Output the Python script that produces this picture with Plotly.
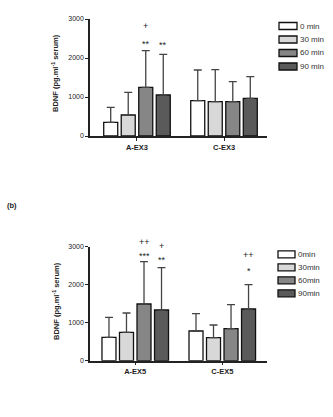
import plotly.graph_objects as go

W, H = 333, 417

# ---- data ----
groups_a = ["A-EX3", "C-EX3"]
groups_b = ["A-EX5", "C-EX5"]
times_a = ["0 min", "30 min", "60 min", "90 min"]
times_b = ["0min", "30min", "60min", "90min"]
colors = ["#ffffff", "#d8d8d8", "#868686", "#5a5a5a"]

# mean values per time point, [A, C]
means_a = [[351, 905], [538, 880], [1248, 880], [1051, 967]]
tops_a = [[735, 1692], [1120, 1700], [2187, 1392], [2095, 1520]]
means_b = [[616, 782], [747, 605], [1492, 842], [1334, 1361]]
tops_b = [[1142, 1237], [1255, 939], [2605, 1474], [2447, 2000]]

# significance marks: (group index, time index, text, value, is_star)
marks_a = [(0, 2, "+", 2820, False), (0, 2, "**", 2436, True), (0, 3, "**", 2400, True)]
marks_b = [(0, 2, "++", 3132, False), (0, 2, "***", 2834, True),
           (0, 3, "+", 3018, False), (0, 3, "**", 2729, True),
           (1, 3, "++", 2782, False), (1, 3, "*", 2447, True)]

yticks = [0, 1000, 2000, 3000]
YMAX = 3000

fig = go.Figure()

def px_x(p):
    return p / W

def px_y(p):
    return 1 - p / H

FONT = "Liberation Sans, Arial"

panels = [
    dict(groups=groups_a, means=means_a, tops=tops_a, marks=marks_a, xa="x", ya="y",
         dom_x=(90, 267), dom_y=(136, 19), rng=[-0.54, 1.494]),
    dict(groups=groups_b, means=means_b, tops=tops_b, marks=marks_b, xa="x2", ya="y2",
         dom_x=(90, 267), dom_y=(360.7, 246.7), rng=[-0.52, 1.514]),
]

for p in panels:
    for i in range(4):
        fig.add_trace(go.Bar(
            x=p["groups"], y=p["means"][i],
            marker=dict(color=colors[i], line=dict(color="#111111", width=1.3)),
            error_y=dict(type="data", symmetric=False,
                         array=[t - m for t, m in zip(p["tops"][i], p["means"][i])],
                         arrayminus=[0, 0], color="#444444", thickness=1.3, width=4),
            xaxis=p["xa"], yaxis=p["ya"], showlegend=False,
        ))

axis_common = dict(showgrid=False, zeroline=False, showline=True, linecolor="#222222",
                   linewidth=1.5, ticks="outside", tickcolor="#222222", ticklen=3,
                   tickwidth=1.2, tickprefix="<b>", ticksuffix="</b>")

fig.update_layout(
    width=W, height=H, margin=dict(l=0, r=0, t=0, b=0, autoexpand=False),
    paper_bgcolor="white", plot_bgcolor="white",
    barmode="group", bargap=0.195, bargroupgap=0.2,
    xaxis=dict(domain=[px_x(90), px_x(267)], anchor="y", range=panels[0]["rng"],
               tickfont=dict(family=FONT, size=7.5, color="#222222"), **axis_common),
    yaxis=dict(domain=[px_y(136), px_y(19)], anchor="x", range=[0, YMAX],
               tickvals=yticks, tickfont=dict(family=FONT, size=7, color="#222222"),
               **axis_common),
    xaxis2=dict(domain=[px_x(90), px_x(267)], anchor="y2", range=panels[1]["rng"],
                tickfont=dict(family=FONT, size=7.5, color="#222222"), **axis_common),
    yaxis2=dict(domain=[px_y(360.7), px_y(246.7)], anchor="x2", range=[0, YMAX],
                tickvals=yticks, tickfont=dict(family=FONT, size=7, color="#222222"),
                **axis_common),
)

# significance annotations, placed in paper space (some lie above the axis range)
slot = (1 - 0.195) / 4
def offset(t):
    return -(1 - 0.195) / 2 + slot * (t + 0.5)

for p in panels:
    x0p, x1p = p["dom_x"]
    ybot, ytop = p["dom_y"]
    r0, r1 = p["rng"]
    for g, t, txt, val, star in p["marks"]:
        xc = g + offset(t)
        xpx = x0p + (xc - r0) / (r1 - r0) * (x1p - x0p)
        ypx = ybot - val / YMAX * (ybot - ytop)
        fig.add_annotation(x=px_x(xpx), y=px_y(ypx), xref="paper", yref="paper", text=txt,
                           showarrow=False, xanchor="center", yanchor="middle",
                           yshift=-3 if star else 0,
                           font=dict(family=FONT, size=9, color="#222222"))

# y titles
ytitle = "<b>BDNF (pg.ml<sup>-1</sup> serum)</b>"
for xc, yc in [(55, 73), (56, 301)]:
    fig.add_annotation(x=px_x(xc), y=px_y(yc), xref="paper", yref="paper", text=ytitle,
                       textangle=-90, showarrow=False, xanchor="center", yanchor="middle",
                       font=dict(family=FONT, size=7.5, color="#222222"))

# panel label
fig.add_annotation(x=px_x(5), y=px_y(205), xref="paper", yref="paper", text="<b>(b)</b>",
                   xanchor="left", yanchor="middle", showarrow=False,
                   font=dict(family=FONT, size=7.5, color="#222222"))

# legends (drawn boxes + labels)
legends = [(times_a, 279, 297, [26, 39.5, 53, 66.5]),
           (times_b, 278, 295, [254.3, 267.3, 280.3, 293.3])]
for labels, x0, x1, ys in legends:
    for i, lab in enumerate(labels):
        yc = ys[i]
        fig.add_shape(type="rect", xref="paper", yref="paper",
                      x0=px_x(x0), x1=px_x(x1), y0=px_y(yc + 3.5), y1=px_y(yc - 3.5),
                      fillcolor=colors[i], line=dict(color="#111111", width=1.3))
        fig.add_annotation(x=px_x(x1 + 1), y=px_y(yc), xref="paper", yref="paper",
                           text=lab, xanchor="left", yanchor="middle", showarrow=False,
                           font=dict(family=FONT, size=8, color="#333333"))

fig.write_html("out.html")
